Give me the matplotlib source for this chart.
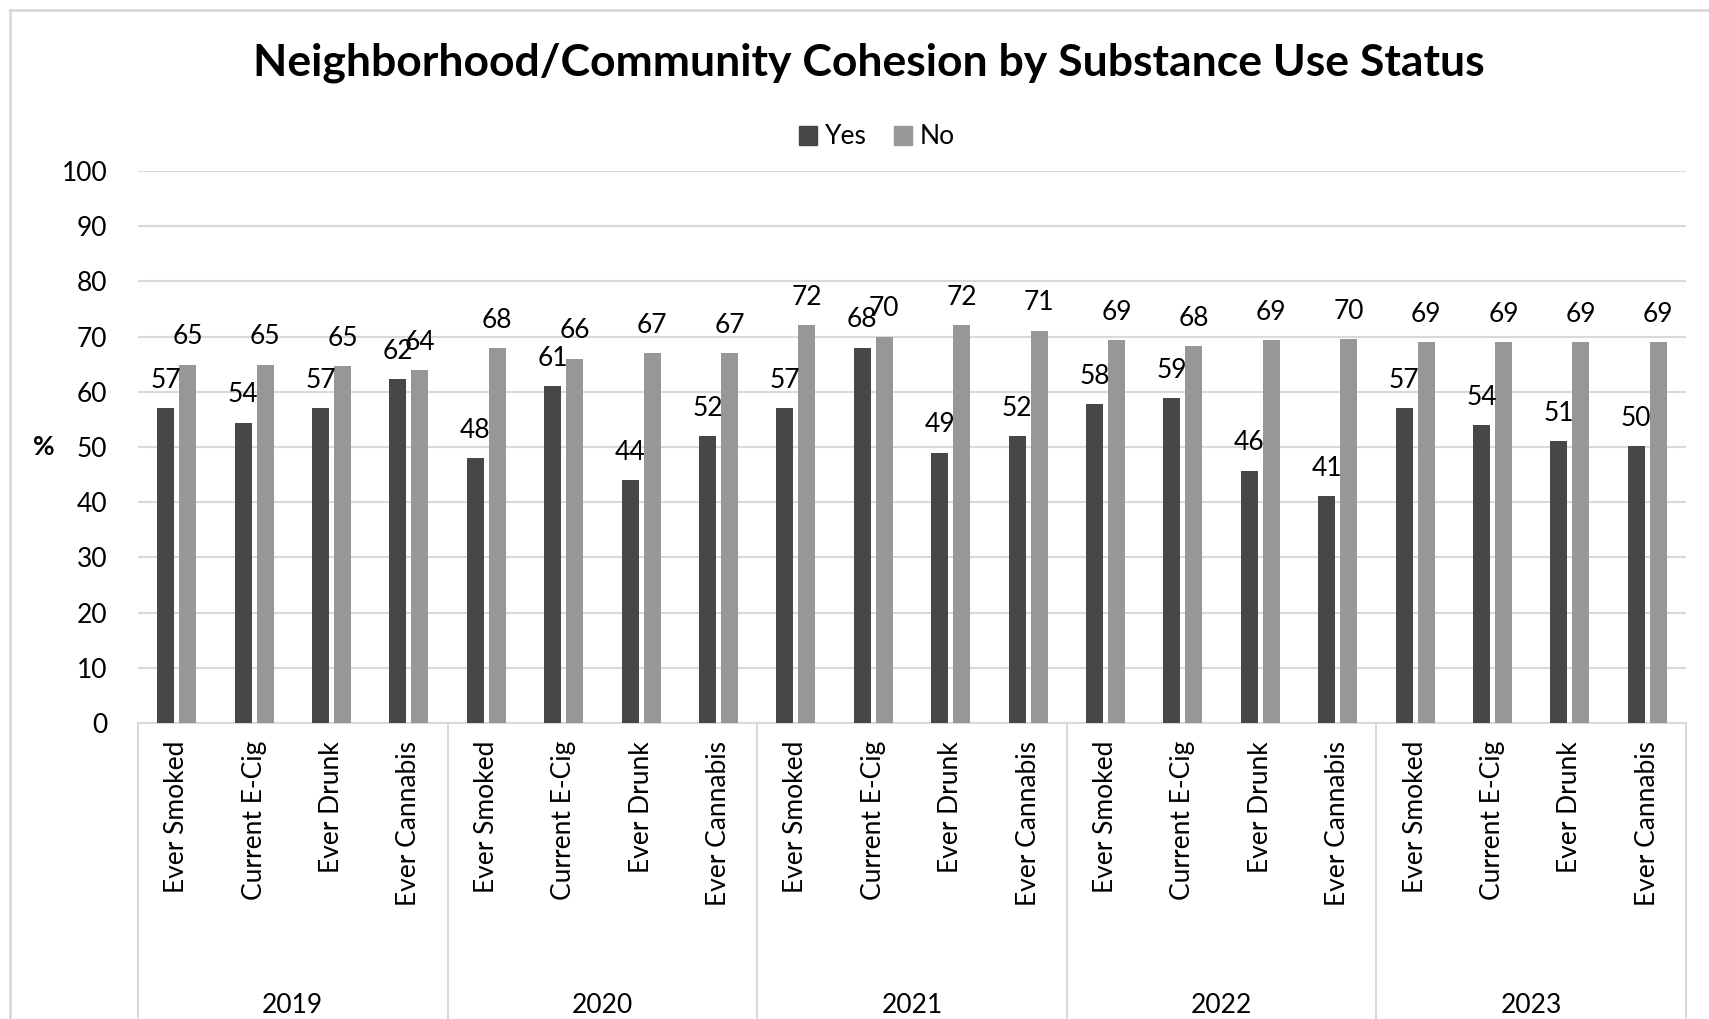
import matplotlib
matplotlib.use("Agg")
import matplotlib.pyplot as plt
from matplotlib.lines import Line2D
from matplotlib.patches import Patch
import numpy as np

plt.rcParams['font.family'] = ['Lato', 'DejaVu Sans']

# data
years = ['2019', '2020', '2021', '2022', '2023']
measures = ['Ever Smoked', 'Current E-Cig', 'Ever Drunk', 'Ever Cannabis']
yes_vals = [57.1, 54.4, 57.1, 62.3,
            48.0, 61.0, 44.0, 52.0,
            57.1, 68.0, 49.0, 52.0,
            57.8, 58.9, 45.7, 41.1,
            57.1, 54.0, 51.0, 50.1]
no_vals = [64.9, 64.9, 64.7, 63.9,
           67.9, 66.0, 67.0, 67.0,
           72.1, 70.0, 72.1, 71.1,
           69.4, 68.3, 69.4, 69.6,
           69.0, 69.0, 69.0, 69.0]
series_names = ['Yes', 'No']

c_yes = '#474747'
c_no = '#979797'
grid_c = '#d9d9d9'

fig = plt.figure(figsize=(17.09, 10.19), dpi=100)
ax = fig.add_axes([138 / 1709, 1 - 723 / 1019, (1686 - 138) / 1709, (723 - 171) / 1019])

n = len(yes_vals)
x = np.arange(n)
w = 0.22
off = 0.142
b1 = ax.bar(x - off, yes_vals, w, color=c_yes, zorder=3)
b2 = ax.bar(x + off, no_vals, w, color=c_no, zorder=3)

for bars, vals in ((b1, yes_vals), (b2, no_vals)):
    for rect, v in zip(bars, vals):
        ax.annotate(f"{v:.0f}", (rect.get_x() + rect.get_width() / 2, rect.get_height()),
                    xytext=(0, 20), textcoords='offset points',
                    ha='center', va='center', fontsize=19, color='black', zorder=4)

ax.set_ylim(0, 100)
ax.set_xlim(-0.5, n - 0.5)
ax.set_yticks(range(0, 101, 10))
ax.yaxis.grid(True, color=grid_c, linewidth=1.5, zorder=0)
ax.tick_params(axis='y', length=0, labelsize=19, pad=22)
for s in ['left', 'right', 'top']:
    ax.spines[s].set_visible(False)
ax.spines['bottom'].set_color(grid_c)
ax.spines['bottom'].set_linewidth(1.5)

ax.set_xticks(x)
ax.set_xticklabels(measures * len(years), rotation=90, fontsize=19)
ax.tick_params(axis='x', length=0, pad=13)

# group separators and year labels
trans = ax.get_xaxis_transform()
for k in range(len(years) + 1):
    ax.plot([k * 4 - 0.5, k * 4 - 0.5], [0, -0.6], color=grid_c, linewidth=1.5,
            transform=trans, clip_on=False)
for k, yr in enumerate(years):
    ax.text(k * 4 + 1.5, -0.512, yr, transform=trans, ha='center', va='center', fontsize=19)

ax.set_ylabel('%', rotation=0, fontsize=19, fontweight='bold', labelpad=30, va='center')
ax.yaxis.set_label_coords(-0.061, 0.5)

fig.suptitle('Neighborhood/Community Cohesion by Substance Use Status',
             x=869 / 1709, y=1 - 63 / 1019, va='center', fontsize=32, fontweight='bold')

handles = [Patch(color=c_yes), Patch(color=c_no)]
fig.legend(handles, series_names, loc='center', bbox_to_anchor=(877 / 1709, 1 - 137 / 1019),
           ncol=2, frameon=False, fontsize=19, handlelength=0.7, handleheight=0.7,
           handletextpad=0.3, columnspacing=1.0)

# outer chart border (left and top visible)
fig.add_artist(Line2D([10 / 1709, 10 / 1709], [0, 1 - 10 / 1019], color=grid_c, linewidth=2,
                      transform=fig.transFigure))
fig.add_artist(Line2D([10 / 1709, 1], [1 - 10 / 1019, 1 - 10 / 1019], color=grid_c, linewidth=2,
                      transform=fig.transFigure))

fig.savefig('out.png', dpi=100)
